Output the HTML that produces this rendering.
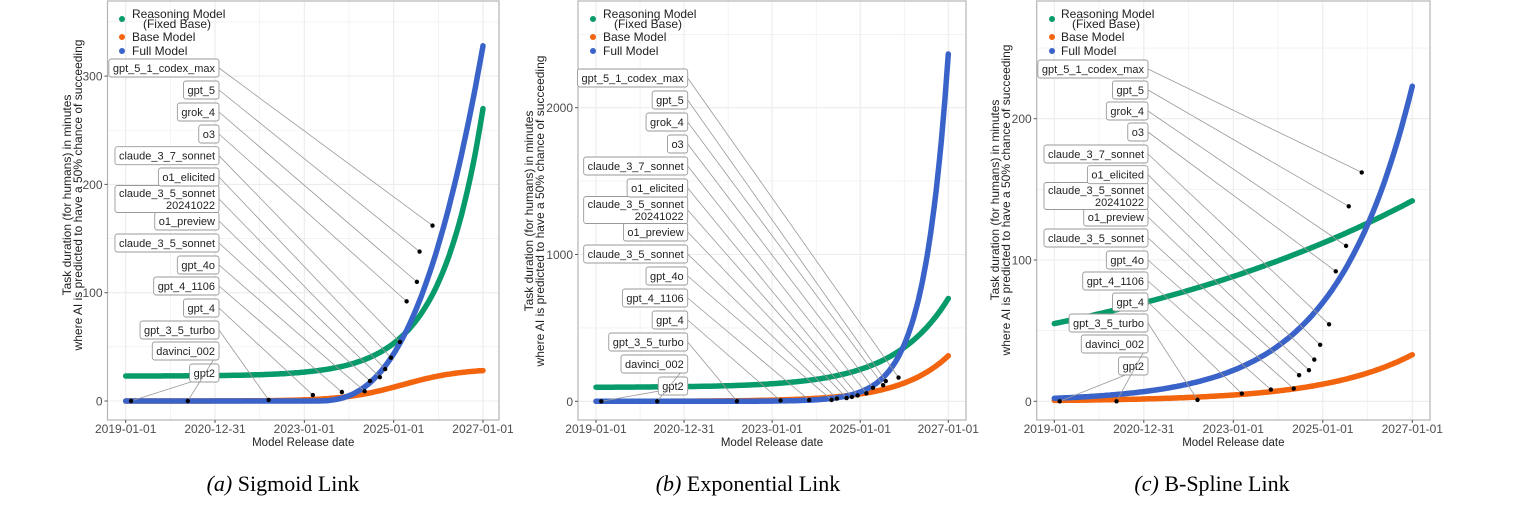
<!DOCTYPE html>
<html><head><meta charset="utf-8">
<style>
html,body{margin:0;padding:0;background:#fff;}
svg{display:block;}
text{font-family:"Liberation Sans",sans-serif;}
.cap{font-family:"Liberation Serif",serif;font-size:22px;fill:#000;}
</style></head>
<body>
<svg id="s" width="1538" height="509" xmlns="http://www.w3.org/2000/svg"></svg>
<script>
const S=document.getElementById('s');
const NS='http://www.w3.org/2000/svg';
function el(tag,attrs,txt){const e=document.createElementNS(NS,tag);for(const k in attrs)e.setAttribute(k,attrs[k]);if(txt!==undefined)e.textContent=txt;S.appendChild(e);return e;}
const dates=[0.12,1.39,3.2,4.19,4.84,5.35,5.47,5.69,5.81,5.94,6.14,6.29,6.52,6.58,6.87];
const vals=[0,0,1,5.5,8.3,9,18.5,22,29.5,40,54.5,92,110,138,162];
const names=['gpt2','davinci_002','gpt_3_5_turbo','gpt_4','gpt_4_1106','gpt_4o','claude_3_5_sonnet','o1_preview',['claude_3_5_sonnet','20241022'],'o1_elicited','claude_3_7_sonnet','o3','grok_4','gpt_5','gpt_5_1_codex_max'];
const panels=[
 {L:107.5,R:499,x0:125.7,x8:483,y0:401,yper:1.083,yt:[0,100,200,300],
  lblR:219,ly:[373,351,330,308,286,265,243,221,[193,205],177,155.7,134,112,90,68],
  leg:[122,132],yl:[71,82],yc:195,cap:'Sigmoid Link',capL:'(a)',capx:283,
  g:t=>23+247*Math.exp(1.05*(t-8)),
  o:t=>30/(1+Math.exp(-1.5*(t-6.2))),
  b:t=>t<4.2?0:328*Math.pow((t-4.2)/3.8,2.7)},
 {L:578,R:966,x0:596,x8:948.3,y0:401.3,yper:0.1468,yt:[0,1000,2000],
  lblR:687.7,ly:[386,364,342,320,298,276,254,232,[204,216],188,166,144,122,100,78],
  leg:[593,603],yl:[533,544],yc:211,cap:'Exponential Link',capL:'(b)',capx:748,
  g:t=>95+605*Math.exp(0.8*(t-8)),
  o:t=>310*Math.exp(0.91*(t-8)),
  b:t=>2366*Math.exp(1.81*(t-8))},
 {L:1036.7,R:1430,x0:1054.3,x8:1412.3,y0:401.3,yper:1.413,yt:[0,100,200],
  lblR:1148,ly:[366,344,323,302,281,260,238,217,[190,202],174.7,154,132,111,90,69],
  leg:[1052,1061],yl:[999,1010],yc:200,cap:'B-Spline Link',capL:'(c)',capx:1212,
  g:t=>55*Math.exp(0.1185*t),
  o:t=>33*Math.exp(0.5*(t-8)),
  b:t=>223*Math.exp(0.58*(t-8))}
];
const xl=['2019-01-01','2020-12-31','2023-01-01','2025-01-01','2027-01-01'];
panels.forEach(p=>{
 const X=t=>p.x0+(p.x8-p.x0)*t/8, Y=v=>p.y0-v*p.yper;
 for(let t=-1;t<=9;t++){const x=X(t);if(x>p.L&&x<p.R)el('line',{x1:x,x2:x,y1:1,y2:420,stroke:'#ececec','stroke-width':t%2?0.6:1.1});}
 const st=p.yt[1];
 for(let v=-st/2;v<=p.yt[p.yt.length-1]+st;v+=st/2){const y=Y(v);if(y>1&&y<420)el('line',{x1:p.L,x2:p.R,y1:y,y2:y,stroke:'#ececec','stroke-width':(Math.round(v/st*2)%2)?0.6:1.1});}
 el('rect',{x:p.L,y:1,width:p.R-p.L,height:419,fill:'none',stroke:'#b5b5b5','stroke-width':1.2});
 xl.forEach((s,i)=>{const x=X(i*2);el('line',{x1:x,x2:x,y1:420,y2:423,stroke:'#555'});el('text',{x:x,y:433,'font-size':12,'text-anchor':'middle',fill:'#4d4d4d'},s);});
 p.yt.forEach(v=>{const y=Y(v);el('line',{x1:p.L-3,x2:p.L,y1:y,y2:y,stroke:'#555'});el('text',{x:p.L-5,y:y+4.5,'font-size':12,'text-anchor':'end',fill:'#4d4d4d'},v);});
 el('text',{x:(p.L+p.R)/2,y:446,'font-size':11.5,'text-anchor':'middle',fill:'#222'},'Model Release date');
 el('text',{x:0,y:0,'font-size':12,'text-anchor':'middle',fill:'#222',transform:`translate(${p.yl[0]},${p.yc}) rotate(-90)`},'Task duration (for humans) in minutes');
 el('text',{x:0,y:0,'font-size':12,'text-anchor':'middle',fill:'#222',transform:`translate(${p.yl[1]},${p.yc}) rotate(-90)`},'where AI is predicted to have a 50% chance of succeeding');
 [['g','#079a6b'],['o','#f3640e'],['b','#3a63c9']].forEach(([k,c])=>{
  let d='';for(let i=0;i<=200;i++){const t=i/25;let y=Y(p[k](t));d+=(i?'L':'M')+X(t).toFixed(1)+','+y.toFixed(1);}
  el('path',{d:d,fill:'none',stroke:c,'stroke-width':5.5,'stroke-linecap':'round'});
 });
 names.forEach((n,i)=>{
  const px=X(dates[i]),py=Y(vals[i]);
  const two=Array.isArray(n);
  const lines=two?n:[n];
  const ys=two?p.ly[i]:[p.ly[i]];
  const cy=two?(ys[0]+ys[1])/2:ys[0];
  const g=lines.map((s,j)=>el('text',{x:p.lblR-4,y:ys[j]+4,'font-size':11,'text-anchor':'end',fill:'#222'},s));
  let w=0;g.forEach(t=>{w=Math.max(w,t.getComputedTextLength());});
  const h=two?27:18;
  const r=el('rect',{x:p.lblR-w-8,y:cy-h/2,width:w+8,height:h,rx:2.5,fill:'#fff',stroke:'#999','stroke-width':0.9});
  S.insertBefore(r,g[0]);
  const ln=el('line',{x1:p.lblR,y1:cy,x2:px,y2:py,stroke:'#999','stroke-width':0.8});
  S.insertBefore(ln,r);
  el('circle',{cx:px,cy:py,r:2.2,fill:'#000'});
 });
 const [dx,tx]=p.leg;
 el('circle',{cx:dx,cy:19,r:3,fill:'#079a6b'});
 el('text',{x:tx,y:18,'font-size':12,fill:'#222'},'Reasoning Model');
 el('text',{x:tx+45,y:28,'font-size':12,'text-anchor':'middle',fill:'#222'},'(Fixed Base)');
 el('circle',{cx:dx,cy:37,r:3,fill:'#f3640e'});el('text',{x:tx,y:41,'font-size':12,fill:'#222'},'Base Model');
 el('circle',{cx:dx,cy:51,r:3,fill:'#3a63c9'});el('text',{x:tx,y:55,'font-size':12,fill:'#222'},'Full Model');
 const c=el('text',{x:p.capx,y:491,'text-anchor':'middle',class:'cap'});
 const a=document.createElementNS(NS,'tspan');a.setAttribute('font-style','italic');a.textContent=p.capL+' ';c.appendChild(a);
 c.appendChild(document.createTextNode(p.cap));
});
</script>
</body></html>
